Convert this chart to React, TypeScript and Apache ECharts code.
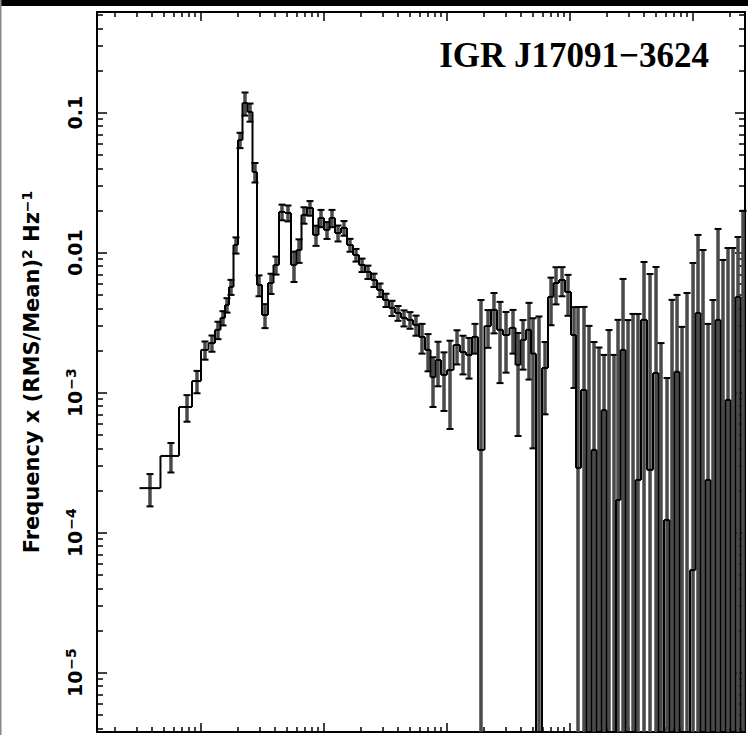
import React, { useEffect, useRef } from "react";
import * as echarts from "echarts";

// ---- data (frequency in Hz, power in (RMS/Mean)^2 Hz^-1 x Hz) ----
const freq = [0.00387, 0.00573, 0.00774, 0.00933, 0.01084, 0.01235, 0.01382, 0.01518, 0.01636, 0.01764, 0.01936, 0.02087, 0.02292, 0.02517, 0.02763, 0.02979, 0.03333, 0.03729, 0.04094, 0.04581, 0.05126, 0.05735, 0.06298, 0.06916, 0.07736, 0.08658, 0.09508, 0.1064, 0.1168, 0.1307, 0.1462, 0.1636, 0.1831, 0.2049, 0.2292, 0.2564, 0.2869, 0.3210, 0.3592, 0.4019, 0.4497, 0.5031, 0.5629, 0.6298, 0.7047, 0.7738, 0.8500, 0.9508, 1.064, 1.213, 1.357, 1.518, 1.698, 1.900, 2.167, 2.424, 2.713, 3.035, 3.459, 3.800, 4.172, 4.668, 5.030, 5.628, 6.299, 7.047, 7.738, 8.658, 9.687, 10.84, 11.68, 13.07, 14.35, 15.76, 17.31, 19.01, 20.87, 22.92, 24.70, 27.13, 29.79, 32.71, 35.92, 40.19, 44.97, 50.30, 55.24, 61.81, 67.87, 74.55, 81.85, 89.89, 100.6, 110.4, 121.3, 133.2, 146.2, 160.6, 176.3, 193.6, 212.6, 233.5, 256.4];

const power = [2.08e-4, 3.53e-4, 7.9e-4, 1.21e-3, 2.02e-3, 2.26e-3, 2.81e-3, 3.42e-3, 4.23e-3, 5.69e-3, 0.01135, 0.0638, 0.1173, 0.1012, 0.0377, 5.88e-3, 3.59e-3, 6.07e-3, 8.17e-3, 0.01953, 0.01922, 8.17e-3, 0.01045, 0.0186, 0.02086, 0.01338, 0.0177, 0.01453, 0.0177, 0.01382, 0.01501, 0.01135, 9.63e-3, 8.17e-3, 7.28e-3, 6.38e-3, 5.42e-3, 4.59e-3, 4.03e-3, 3.71e-3, 3.42e-3, 3.31e-3, 3.05e-3, 2.50e-3, 2.02e-3, 1.29e-3, 1.71e-3, 1.34e-3, 1.45e-3, 2.19e-3, 1.95e-3, 1.86e-3, 2.50e-3, 3.9e-4, 2.99e-3, 3.90e-3, 2.81e-3, 2.58e-3, 2.90e-3, 1.58e-3, 2.38e-3, 2.81e-3, 1.9e-3, -1e-3, 1.5e-3, 4.83e-3, 6.07e-3, 6.38e-3, 5.24e-3, 2.58e-3, 2.9e-4, 1.045e-3, -1.0e-3, 3.9e-4, -1.0e-3, 7.5e-4, -1.5e-3, -0.5e-3, 1.71e-4, 2.02e-3, -2e-3, -1e-3, 2.38e-4, 3.31e-3, 2.81e-4, 1.38e-3, -1e-3, 1.23e-4, -2e-3, 1.41e-3, -1.5e-3, -3e-3, 5.4e-5, 3.71e-3, -4e-3, 2.38e-4, -2e-3, 3.31e-3, -3e-3, 8.87e-4, -4e-3, 4.83e-3, -5e-3];

const powerErr = [0.54e-4, 0.84e-4, 1.7e-4, 2.2e-4, 3e-4, 3e-4, 4e-4, 4e-4, 5e-4, 7e-4, 1.5e-3, 0.008, 0.022, 0.015, 0.006, 1.0e-3, 0.7e-3, 1e-3, 1.2e-3, 2.5e-3, 2.5e-3, 2e-3, 2e-3, 2.5e-3, 2.5e-3, 2.2e-3, 2.5e-3, 2e-3, 2.5e-3, 1.8e-3, 1.8e-3, 1.2e-3, 1e-3, 0.9e-3, 0.8e-3, 0.7e-3, 0.6e-3, 0.5e-3, 0.5e-3, 0.45e-3, 0.45e-3, 0.45e-3, 0.5e-3, 0.6e-3, 0.6e-3, 0.5e-3, 0.6e-3, 0.6e-3, 0.9e-3, 0.6e-3, 0.6e-3, 0.6e-3, 0.6e-3, 4.2e-3, 0.9e-3, 1.25e-3, 1.64e-3, 1.19e-3, 1.0e-3, 1.09e-3, 0.92e-3, 1.57e-3, 1.5e-3, 4.5e-3, 0.8e-3, 1.8e-3, 1.8e-3, 1.5e-3, 1.7e-3, 1.5e-3, 3.8e-3, 3.05e-3, 4.0e-3, 1.91e-3, 3.1e-3, 1.11e-3, 4.3e-3, 2.36e-3, 3.14e-3, 4.47e-3, 5.3e-3, 4.65e-3, 3.41e-3, 5.27e-3, 6.76e-3, 6.52e-3, 3.26e-3, 1.15e-3, 6.6e-3, 3.58e-3, 4.45e-3, 8.15e-3, 8.39e-3, 9.67e-3, 1.445e-2, 2.86e-3, 6.59e-3, 1.146e-2, 1.187e-2, 9.9e-3, 1.48e-2, 8.1e-3, 2.49e-2];

// axis ticks (decade exponents) and labels
const xMajorExp = [-2, -1, 0, 1, 2];
const yMajorExp = [-5, -4, -3, -2, -1];
const yTickLabels = ["{n|10}{s|\u22125}", "{n|10}{s|\u22124}", "{n|10}{s|\u22123}", "{n|0.01}", "{n|0.1}"];
const titleText = "IGR J17091\u22123624";
const yAxisTitle = "{t|Frequency x (RMS/Mean)}{s|2}{t| Hz}{s|\u22121}";

// axis extents (log10 space)
const X_MIN = -2.843;
const X_MAX = 2.425;
const Y_MIN = -5.424;
const Y_MAX = -0.281;

function minorLogs(lo: number, hi: number): number[] {
  const out: number[] = [];
  for (let e = Math.floor(lo); e <= Math.ceil(hi); e++) {
    for (let m = 2; m <= 9; m++) {
      const v = e + Math.log10(m);
      if (v > lo && v < hi) out.push(v);
    }
  }
  return out;
}

const N = Math.min(freq.length, power.length, powerErr.length);
const lx = freq.slice(0, N).map((f) => Math.log10(f));
const edges: number[] = [];
for (let i = 0; i <= N; i++) {
  if (i === 0) edges.push(lx[0] - (lx[1] - lx[0]) / 2);
  else if (i === N) edges.push(lx[N - 1] + (lx[N - 1] - lx[N - 2]) / 2);
  else edges.push((lx[i - 1] + lx[i]) / 2);
}

function pyOf(api: any, cs: any, p: number): number {
  const bottom = cs.y + cs.height;
  if (!(p > 0)) return bottom;
  const y = api.coord([lx[0], Math.log10(p)])[1];
  return Math.max(cs.y, Math.min(bottom, y));
}

function clampX(cs: any, x: number) {
  return Math.max(cs.x, Math.min(cs.x + cs.width, x));
}

const seriesData = lx.map((v, i) => [v, power[i] > 0 ? Math.log10(power[i]) : Y_MIN]);

const FONT = "DejaVu Sans";

const labelRich = {
  n: { fontFamily: FONT, fontWeight: "bold", fontSize: 19, lineHeight: 22, fill: "#000", color: "#000" },
  s: { fontFamily: FONT, fontWeight: "bold", fontSize: 14, lineHeight: 22, fill: "#000", color: "#000", verticalAlign: "top", padding: [0, 0, 9, 1] },
};

function xAx(position: string, values: number[], len: number, showLine: boolean) {
  return {
    type: "value",
    position,
    min: X_MIN,
    max: X_MAX,
    axisLine: { show: showLine, onZero: false, lineStyle: { color: "#000", width: 2 } },
    axisTick: { show: true, inside: true, length: len, customValues: values, lineStyle: { color: "#000", width: 1.5 } },
    axisLabel: { show: false },
    splitLine: { show: false },
  };
}

function yAx(position: string, values: number[], len: number, showLine: boolean, withName: boolean) {
  return {
    type: "value",
    position,
    min: Y_MIN,
    max: Y_MAX,
    axisLine: { show: showLine, onZero: false, lineStyle: { color: "#000", width: 2 } },
    axisTick: { show: true, inside: true, length: len, customValues: values, lineStyle: { color: "#000", width: 1.5 } },
    axisLabel: { show: false },
    splitLine: { show: false },
    name: withName ? yAxisTitle : "",
    nameLocation: "middle",
    nameRotate: 90,
    nameGap: 54,
    nameTextStyle: {
      fontFamily: FONT,
      fontWeight: "bold",
      fontSize: 21,
      color: "#000",
      rich: {
        t: { fontFamily: FONT, fontWeight: "bold", fontSize: 21, color: "#000" },
        s: { fontFamily: FONT, fontWeight: "bold", fontSize: 14, color: "#000", verticalAlign: "top", padding: [0, 0, 9, 0] },
      },
    },
  };
}

export default function App() {
  const ref = useRef<HTMLDivElement>(null);
  useEffect(() => {
    if (!ref.current) return;
    const chart = echarts.init(ref.current, null, { renderer: "svg" });
    const xMinor = minorLogs(X_MIN, X_MAX);
    const yMinor = minorLogs(Y_MIN, Y_MAX);

    const errorSeries = {
      type: "custom",
      xAxisIndex: 0,
      yAxisIndex: 0,
      data: seriesData,
      renderItem: (params: any, api: any) => {
        const i = params.dataIndex;
        const cs = params.coordSys;
        const cx = api.coord([lx[i], Y_MIN])[0];
        const hi = power[i] + powerErr[i];
        const lo = power[i] - powerErr[i];
        const yTop = pyOf(api, cs, hi);
        const yBot = pyOf(api, cs, lo);
        const bottom = cs.y + cs.height;
        const children: any[] = [
          { type: "line", shape: { x1: cx, y1: yTop, x2: cx, y2: yBot }, style: { stroke: "#4a4a4a", lineWidth: 3.5 } },
        ];
        if (yTop > cs.y) children.push({ type: "line", shape: { x1: cx - 3.5, y1: yTop, x2: cx + 3.5, y2: yTop }, style: { stroke: "#000", lineWidth: 2 } });
        if (lo > 0 && yBot < bottom) children.push({ type: "line", shape: { x1: cx - 3.5, y1: yBot, x2: cx + 3.5, y2: yBot }, style: { stroke: "#000", lineWidth: 2 } });
        return { type: "group", children };
      },
      silent: true,
      z: 2,
    };

    const stepSeries = {
      type: "custom",
      xAxisIndex: 0,
      yAxisIndex: 0,
      data: seriesData,
      renderItem: (params: any, api: any) => {
        const i = params.dataIndex;
        const cs = params.coordSys;
        const xl = clampX(cs, api.coord([edges[i], Y_MIN])[0]);
        const xr = clampX(cs, api.coord([edges[i + 1], Y_MIN])[0]);
        const yv = pyOf(api, cs, power[i]);
        const children: any[] = [
          { type: "line", shape: { x1: xl, y1: yv, x2: xr, y2: yv }, style: { stroke: "#000", lineWidth: 2 } },
        ];
        if (i > 0) {
          const yp = pyOf(api, cs, power[i - 1]);
          children.push({ type: "line", shape: { x1: xl, y1: yp, x2: xl, y2: yv }, style: { stroke: "#000", lineWidth: 2 } });
        }
        return { type: "group", children };
      },
      silent: true,
      z: 3,
    };

    // y tick labels placed through the axis scale
    const labelSeries = {
      type: "custom",
      xAxisIndex: 0,
      yAxisIndex: 0,
      clip: false,
      data: yMajorExp.map((e) => [X_MIN, e]),
      renderItem: (params: any, api: any) => {
        const k = params.dataIndex;
        const p = api.coord([X_MIN, yMajorExp[k]]);
        return {
          type: "text",
          x: p[0] - 22,
          y: p[1],
          rotation: Math.PI / 2,
          style: {
            text: yTickLabels[k],
            rich: labelRich,
            fontFamily: FONT,
            fontWeight: "bold",
            fontSize: 19,
            fill: "#000",
            align: "center",
            verticalAlign: "middle",
          },
        };
      },
      silent: true,
      z: 4,
    };

    chart.setOption({
      animation: false,
      backgroundColor: "#fff",
      grid: { left: 97, top: 12, right: 3, bottom: 3, containLabel: false },
      xAxis: [
        xAx("bottom", xMajorExp, 9, true),
        xAx("bottom", xMinor, 5, false),
        xAx("top", xMajorExp, 9, true),
        xAx("top", xMinor, 5, false),
      ],
      yAxis: [
        yAx("left", yMajorExp, 10, true, true),
        yAx("left", yMinor, 6, false, false),
        yAx("right", yMajorExp, 10, true, false),
        yAx("right", yMinor, 6, false, false),
      ],
      series: [errorSeries, stepSeries, labelSeries],
      graphic: [
        { type: "rect", shape: { x: 0, y: 0, width: 748, height: 6 }, style: { fill: "#000" }, silent: true },
        { type: "rect", shape: { x: 0, y: 0, width: 1.5, height: 735 }, style: { fill: "#888" }, silent: true },
        {
          type: "text",
          x: 709,
          y: 55,
          style: {
            text: titleText,
            fontFamily: "Liberation Serif",
            fontWeight: "bold",
            fontSize: 35,
            fill: "#000",
            align: "right",
            verticalAlign: "middle",
            textAlign: "right",
            textVerticalAlign: "middle",
          },
          silent: true,
        },
      ],
    });
    return () => chart.dispose();
  }, []);
  return (
    <div
      ref={ref}
      style={{ position: "fixed", left: 0, top: 0, width: 748, height: 735, background: "#fff" }}
    />
  );
}
